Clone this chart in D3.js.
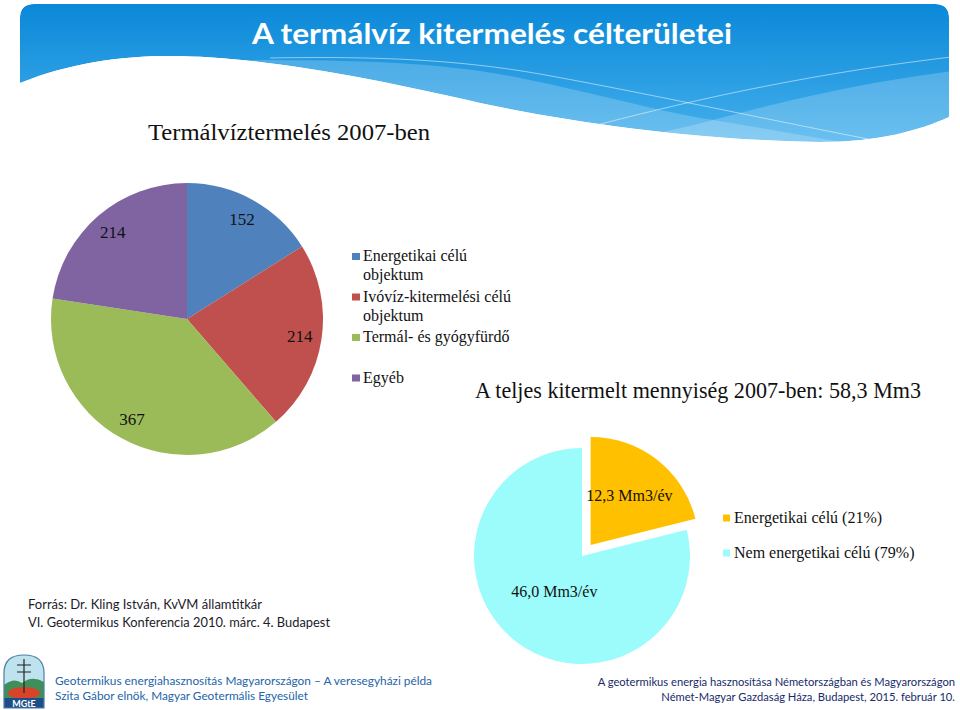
<!DOCTYPE html>
<html>
<head>
<meta charset="utf-8">
<script src="https://cdn.jsdelivr.net/npm/d3@7.9.0/dist/d3.min.js"></script>
<style>
  body { margin: 0; background: #fff; }
  svg { display: block; }
</style>
</head>
<body>
<svg id="slide"></svg>
<script>
// data
const slideTitle = 'A termálvíz kitermelés célterületei';
const useTitle = 'Termálvíztermelés 2007-ben';
const useCategories = ['Energetikai célú objektum', 'Ivóvíz-kitermelési célú objektum', 'Termál- és gyógyfürdő', 'Egyéb'];
const useValues = [152, 214, 367, 214];
const useColors = ['#4f81bd', '#c0504d', '#9bbb59', '#8064a2'];

const volumeCategories = ['Energetikai célú', 'Nem energetikai célú'];
const volumeValues = [12.3, 46.0]; // Mm3/év
const volumeColors = ['#ffc000', '#9cfcfc'];

const sourceLines = ['Forrás: Dr. Kling István, KvVM államtitkár', 'VI. Geotermikus Konferencia 2010. márc. 4. Budapest'];
const footerLeft = ['Geotermikus energiahasznosítás Magyarországon – A veresegyházi példa', 'Szita Gábor elnök, Magyar Geotermális Egyesület'];
const footerRight = ['A geotermikus energia hasznosítása Németországban és Magyarországon', 'Német-Magyar Gazdaság Háza, Budapest, 2015. február 10.'];

const width = 960;
const height = 710;
const serif = '"Liberation Serif", "Times New Roman", serif';
const sans = 'Lato, "Open Sans", sans-serif';

const svg = d3.select('#slide').attr('width', width).attr('height', height);
svg.append('rect').attr('width', width).attr('height', height).attr('fill', '#fff');

// ---------- header band ----------
const defs = svg.append('defs');
const grad = defs.append('linearGradient').attr('id', 'hdr').attr('x1', 0).attr('y1', 0).attr('x2', 0).attr('y2', 1);
grad.append('stop').attr('offset', '0%').attr('stop-color', '#0a88d8');
grad.append('stop').attr('offset', '100%').attr('stop-color', '#45b0ec');

const hdrShape = 'M20,18 Q20,4 34,4 H935 Q949,4 949,18 V117 ' +
  'C920,130 880,142 820,142 C700,140 580,124 480,103 C380,80 260,56 170,56 C120,56 70,63 20,83 Z';
defs.append('clipPath').attr('id', 'hdrClip').append('path').attr('d', hdrShape);

const hdr = svg.append('g').attr('clip-path', 'url(#hdrClip)');
hdr.append('path').attr('d', hdrShape).attr('fill', 'url(#hdr)');
// lighter wave bands
hdr.append('path')
  .attr('d', 'M250,60 C360,60 440,62 520,78 C600,94 660,112 713,120 C800,134 880,150 960,160 V200 H200 Z')
  .attr('fill', '#fff').attr('opacity', 0.2);
hdr.append('path')
  .attr('d', 'M960,70 C880,80 800,96 713,120 C640,140 560,150 480,150 V200 H960 Z')
  .attr('fill', '#fff').attr('opacity', 0.2);
hdr.append('path')
  .attr('d', 'M270,58 C380,56 460,60 540,74 C640,92 760,118 873,140')
  .attr('fill', 'none').attr('stroke', '#fff').attr('stroke-opacity', 0.5).attr('stroke-width', 1);
hdr.append('path')
  .attr('d', 'M597,125 C700,98 820,72 960,56')
  .attr('fill', 'none').attr('stroke', '#fff').attr('stroke-opacity', 0.5).attr('stroke-width', 1);

svg.append('text')
  .attr('x', 492).attr('y', 44)
  .attr('text-anchor', 'middle')
  .attr('font-family', sans).attr('font-weight', 700).attr('font-size', 28)
  .attr('fill', '#fff')
  .attr('textLength', 480).attr('lengthAdjust', 'spacingAndGlyphs')
  .text(slideTitle);

// ---------- pie 1: number of wells by use ----------
svg.append('text')
  .attr('x', 148).attr('y', 140)
  .attr('font-family', serif).attr('font-size', 24).attr('fill', '#111')
  .attr('textLength', 282).attr('lengthAdjust', 'spacingAndGlyphs')
  .text(useTitle);

const pie = d3.pie().sort(null).value((d) => d);
const useArcs = pie(useValues);
const r1 = 136;
const arc1 = d3.arc().innerRadius(0).outerRadius(r1);
const label1 = d3.arc().innerRadius(114).outerRadius(114);

const g1 = svg.append('g').attr('transform', 'translate(187,319)');
g1.selectAll('path')
  .data(useArcs)
  .join('path')
  .attr('d', arc1)
  .attr('fill', (d, i) => useColors[i]);
g1.selectAll('text')
  .data(useArcs)
  .join('text')
  .attr('transform', (d) => `translate(${label1.centroid(d)})`)
  .attr('dy', '0.35em')
  .attr('text-anchor', 'middle')
  .attr('font-family', serif).attr('font-size', 17).attr('fill', '#111')
  .text((d) => d.data);

// legend with word wrap
const leg1 = svg.append('g');
const itemY = d3.scalePoint().domain(useCategories).range([261, 382.5]);
useCategories.forEach((name, i) => {
  const y = itemY(name);
  leg1.append('rect')
    .attr('x', 352).attr('y', y - 8).attr('width', 8).attr('height', 7)
    .attr('fill', useColors[i]);
  const t = leg1.append('text')
    .attr('x', 363).attr('y', y)
    .attr('font-family', serif).attr('font-size', 16).attr('fill', '#111');
  const words = name.split(' ');
  let line = [];
  let tspan = t.append('tspan').attr('x', 363).attr('dy', 0);
  words.forEach((w) => {
    line.push(w);
    tspan.text(line.join(' '));
    if (tspan.node().getComputedTextLength() > 158 && line.length > 1) {
      line.pop();
      tspan.text(line.join(' '));
      line = [w];
      tspan = t.append('tspan').attr('x', 363).attr('dy', 19).text(w);
    }
  });
});

// ---------- pie 2: total volume ----------
const total = d3.sum(volumeValues);
const fmt = (v) => v.toFixed(1).replace('.', ',');

svg.append('text')
  .attr('x', 475).attr('y', 398)
  .attr('font-family', serif).attr('font-size', 23).attr('fill', '#111')
  .attr('textLength', 446).attr('lengthAdjust', 'spacingAndGlyphs')
  .text(`A teljes kitermelt mennyiség 2007-ben: ${fmt(total)} Mm3`);

const volArcs = pie(volumeValues);
const r2 = 108;
const arc2 = d3.arc().innerRadius(0).outerRadius(r2);
const explode = [14, 0];
const labelR = [63, 45];

const g2 = svg.append('g').attr('transform', 'translate(582,556)');
const slice = g2.selectAll('g')
  .data(volArcs)
  .join('g')
  .attr('transform', (d, i) => {
    const a = (d.startAngle + d.endAngle) / 2;
    return `translate(${Math.sin(a) * explode[i]},${-Math.cos(a) * explode[i]})`;
  });
slice.append('path')
  .attr('d', arc2)
  .attr('fill', (d, i) => volumeColors[i]);
slice.append('text')
  .attr('transform', (d, i) => {
    const a = (d.startAngle + d.endAngle) / 2;
    return `translate(${Math.sin(a) * labelR[i]},${-Math.cos(a) * labelR[i]})`;
  })
  .attr('dy', '0.35em')
  .attr('text-anchor', 'middle')
  .attr('font-family', serif).attr('font-size', 16).attr('fill', '#111')
  .text((d) => `${fmt(d.data)} Mm3/év`);

const leg2Y = d3.scalePoint().domain(volumeCategories).range([523, 558]);
volumeCategories.forEach((name, i) => {
  const y = leg2Y(name);
  svg.append('rect')
    .attr('x', 723).attr('y', y - 8.5).attr('width', 7).attr('height', 7)
    .attr('fill', volumeColors[i]);
  svg.append('text')
    .attr('x', 734).attr('y', y)
    .attr('font-family', serif).attr('font-size', 16).attr('fill', '#111')
    .text(`${name} (${Math.round((volumeValues[i] / total) * 100)}%)`);
});

// ---------- source note ----------
const srcWidths = [234, 302];
sourceLines.forEach((s, i) => {
  svg.append('text')
    .attr('x', 28).attr('y', 609 + i * 18)
    .attr('font-family', sans).attr('font-size', 13).attr('fill', '#1c1c2a')
    .attr('textLength', srcWidths[i]).attr('lengthAdjust', 'spacingAndGlyphs')
    .text(s);
});

// ---------- footer ----------
const leftWidths = [377, 253];
footerLeft.forEach((s, i) => {
  svg.append('text')
    .attr('x', 55).attr('y', 685 + i * 15)
    .attr('font-family', sans).attr('font-size', 12).attr('fill', '#2464a8')
    .attr('textLength', leftWidths[i]).attr('lengthAdjust', 'spacingAndGlyphs')
    .text(s);
});
// right block: size chosen so the natural width stays inside the page
footerRight.forEach((s, i) => {
  svg.append('text')
    .attr('x', 955).attr('y', 686 + i * 15)
    .attr('text-anchor', 'end')
    .attr('font-family', sans).attr('font-size', 11.2).attr('fill', '#172a6a')
    .text(s);
});

// MGtE logo
const logo = svg.append('g').attr('transform', 'translate(4,655)');
const logoShape = 'M0,53 V18 Q0,0 20,0 Q40,0 40,18 V53 Z';
defs.append('clipPath').attr('id', 'logoClip').append('path').attr('d', logoShape);
const lg = logo.append('g').attr('clip-path', 'url(#logoClip)');
lg.append('path').attr('d', logoShape).attr('fill', '#bfe3ee');
lg.append('path').attr('d', 'M0,30 Q10,22 18,28 Q28,20 40,27 V53 H0 Z').attr('fill', '#3f8f5a');
lg.append('ellipse').attr('cx', 20).attr('cy', 38).attr('rx', 16).attr('ry', 6).attr('fill', '#d9432a');
lg.append('rect').attr('x', 0).attr('y', 43).attr('width', 40).attr('height', 10).attr('fill', '#1d4f86');
lg.append('line').attr('x1', 20).attr('x2', 20).attr('y1', 4).attr('y2', 38).attr('stroke', '#222').attr('stroke-width', 1.2);
[10, 17].forEach((y) => {
  lg.append('line').attr('x1', 13).attr('x2', 27).attr('y1', y).attr('y2', y).attr('stroke', '#222').attr('stroke-width', 1.2);
});
logo.append('path').attr('d', logoShape).attr('fill', 'none').attr('stroke', '#4a7fa8').attr('stroke-width', 1.2);
logo.append('text')
  .attr('x', 20).attr('y', 51.5).attr('text-anchor', 'middle')
  .attr('font-family', sans).attr('font-weight', 700).attr('font-size', 9).attr('fill', '#fff')
  .text('MGtE');
</script>
</body>
</html>
